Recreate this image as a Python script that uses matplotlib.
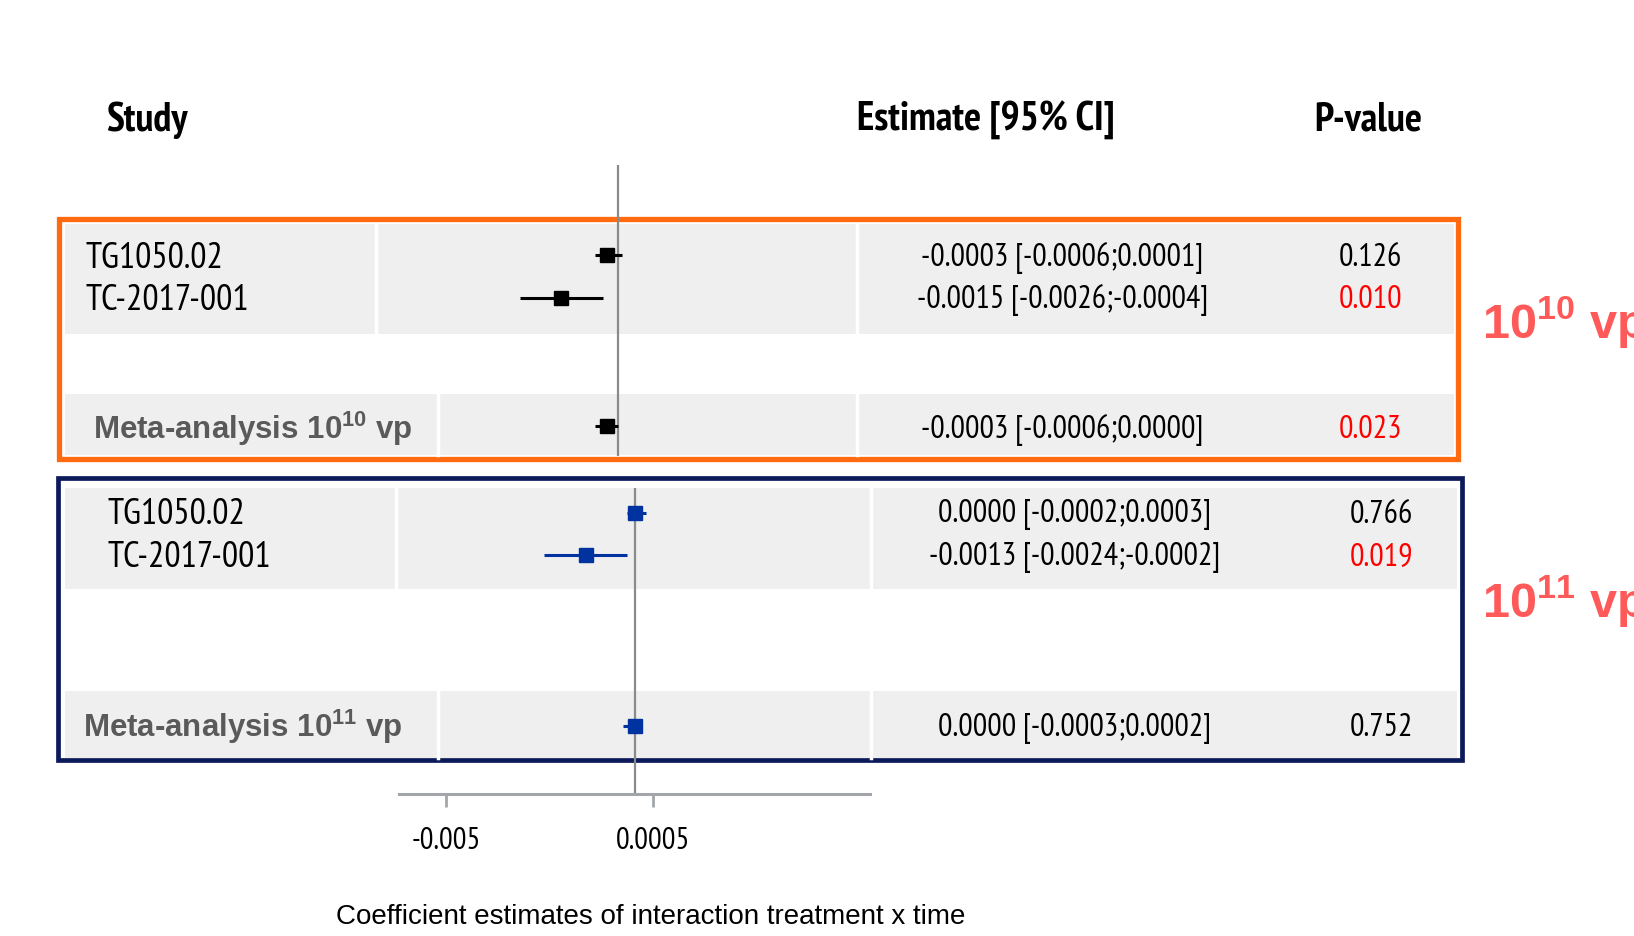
import matplotlib
matplotlib.use("Agg")
import matplotlib.pyplot as plt
from matplotlib import font_manager as fm
from matplotlib.patches import Rectangle

# Forest plot data
studies = ["TG1050.02", "TC-2017-001"]

est_10 = [-0.0003, -0.0015]
lo_10 = [-0.0006, -0.0026]
hi_10 = [0.0001, -0.0004]
p_10 = [0.126, 0.010]
meta_10 = [-0.0003, -0.0006, 0.0000, 0.023]   # est, lo, hi, p

est_11 = [0.0000, -0.0013]
lo_11 = [-0.0002, -0.0024]
hi_11 = [0.0003, -0.0002]
p_11 = [0.766, 0.019]
meta_11 = [0.0000, -0.0003, 0.0002, 0.752]

xticks = [-0.005, 0.0005]
xtick_labels = ["-0.005", "0.0005"]
xlim = (-0.00625, 0.00625)

# narrow font for the table text, falls back to plain sans
names = {f.name for f in fm.fontManager.ttflist}
NARROW = "Liberation Sans"
for cand in ["PT Sans Narrow", "Roboto Condensed", "Liberation Sans Narrow"]:
    if cand in names:
        NARROW = cand
        break
SANS = "Liberation Sans"
plt.rcParams["mathtext.fontset"] = "custom"
plt.rcParams["mathtext.rm"] = SANS
plt.rcParams["mathtext.bf"] = SANS + ":bold"

W, H = 1634, 936
fig = plt.figure(figsize=(W / 100, H / 100), dpi=100)

# background layer in pixel coordinates
bg = fig.add_axes([0, 0, 1, 1])
bg.set_xlim(0, W)
bg.set_ylim(H, 0)
bg.axis("off")

GRAY = "#efefef"
ORANGE = "#ff6a10"
NAVY = "#0c1a5a"
BLUE = "#0033a0"
RED = "#ff0000"
META_GRAY = "#5a5a5a"


def band(x0, x1, y0, y1, seps):
    bg.add_patch(Rectangle((x0, y0), x1 - x0, y1 - y0, facecolor=GRAY, edgecolor="none"))
    for s in seps:
        bg.plot([s, s], [y0, y1], color="white", lw=2.5)


# grey row bands
band(64.6, 1453.7, 224, 333.5, [376.2, 856.6])
band(64.6, 1453.7, 394, 455.4, [437.7, 856.6])
band(64.6, 1456.8, 487.8, 589, [396, 871.2])
band(64.6, 1456.8, 691, 757.8, [437.7, 871.2])

# coloured frames
bg.add_patch(Rectangle((59.4, 218.9), 1457.9 - 59.4, 458.6 - 218.9, facecolor="none",
                       edgecolor=ORANGE, lw=3.8))
bg.add_patch(Rectangle((58.4, 478.4), 1462 - 58.4, 759.9 - 478.4, facecolor="none",
                       edgecolor=NAVY, lw=3.4))

# headers
hdr = dict(fontsize=29, fontweight="bold", family=NARROW, va="center")
bg.text(106, 120, "Study", ha="left", **hdr)
bg.text(986, 120, "Estimate [95% CI]", ha="center", **hdr)
bg.text(1368, 120, "P-value", ha="center", **hdr)


def fmt(v):
    s = f"{v:.4f}"
    return "0.0000" if s == "-0.0000" else s


def rows(y_rows, name_x, est_x, p_x, est, lo, hi, p, meta, meta_y, meta_x, tag):
    for i, name in enumerate(studies):
        y = y_rows[i]
        bg.text(name_x, y, name, fontsize=26, family=NARROW, ha="left", va="center")
        bg.text(est_x, y, f"{fmt(est[i])} [{fmt(lo[i])};{fmt(hi[i])}]", fontsize=23,
                family=NARROW, ha="center", va="center")
        bg.text(p_x, y, f"{p[i]:.3f}", fontsize=23, family=NARROW, ha="center", va="center",
                color=RED if p[i] < 0.05 else "black")
    bg.text(meta_x, meta_y - 2, "Meta-analysis 10$^{\\mathbf{" + tag + "}}$ vp", fontsize=22.5,
            fontweight="bold", family=SANS, color=META_GRAY, ha="left", va="center")
    bg.text(est_x, meta_y, f"{fmt(meta[0])} [{fmt(meta[1])};{fmt(meta[2])}]", fontsize=23,
            family=NARROW, ha="center", va="center")
    bg.text(p_x, meta_y, f"{meta[3]:.3f}", fontsize=23, family=NARROW, ha="center",
            va="center", color=RED if meta[3] < 0.05 else "black")


rows([258, 300.5], 85.5, 1062.5, 1370.4, est_10, lo_10, hi_10, p_10, meta_10, 430.5, 92.7, "10")
rows([515, 557.5], 107.3, 1075, 1381.3, est_11, lo_11, hi_11, p_11, meta_11, 728.5, 83.4, "11")

# right-hand dose labels (run off the right edge, as in the original slide)
for y, tag in [(323, "10"), (601, "11")]:
    bg.text(1482, y, "10$^{\\mathbf{" + tag + "}}$ vp", fontsize=35, fontweight="bold",
            family=SANS, color="#ff5a5a", ha="left", va="center")

bg.text(651, 917, "Coefficient estimates of interaction treatment x time", fontsize=20,
        family=SANS, ha="center", va="center")


def px_axes(x0, y0, x1, y1):
    return fig.add_axes([x0 / W, 1 - y1 / H, (x1 - x0) / W, (y1 - y0) / H])


def forest(ax, est, lo, hi, meta, meta_row, color):
    ax.patch.set_alpha(0)
    ax.set_xlim(*xlim)
    ax.axvline(0, color="#8a8a8a", lw=1.6, zorder=1)
    ys = list(range(len(est))) + [meta_row]
    e = list(est) + [meta[0]]
    l = list(lo) + [meta[1]]
    h = list(hi) + [meta[2]]
    ax.hlines(ys, l, h, color=color, lw=2.2, zorder=2)
    ax.plot(e, ys, "s", color=color, ms=10, zorder=3)
    ax.set_yticks([])


# top forest (10^10 vp)
ax1 = px_axes(382.5, 164.7, 853.5, 455.5)
ax1.set_ylim(4.678, -2.117)
forest(ax1, est_10, lo_10, hi_10, meta_10, 4, "black")
ax1.set_xticks([])
for s in ax1.spines.values():
    s.set_visible(False)

# bottom forest (10^11 vp) with the axis
ax2 = px_axes(399.1, 487.8, 870.1, 794.3)
ax2.set_ylim(6.592, -0.585)
forest(ax2, est_11, lo_11, hi_11, meta_11, 5, BLUE)
for k in ["top", "left", "right"]:
    ax2.spines[k].set_visible(False)
ax2.spines["bottom"].set_color("#a2a6aa")
ax2.spines["bottom"].set_linewidth(2.2)
ax2.set_xticks(xticks)
ax2.set_xticklabels(xtick_labels, family=NARROW, fontsize=22)
ax2.tick_params(axis="x", direction="out", length=9.5, width=2, color="#a2a6aa", pad=14)

fig.savefig("out.png", dpi=100)
